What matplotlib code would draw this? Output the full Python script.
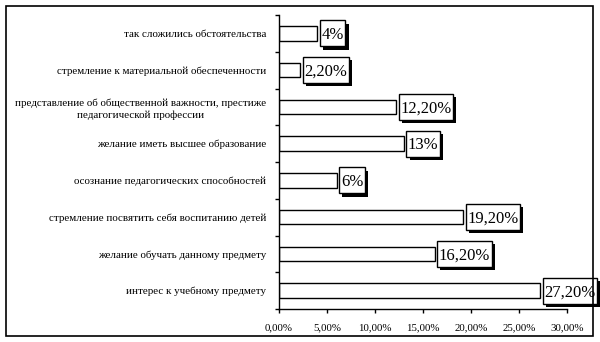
import matplotlib
matplotlib.use("Agg")
import matplotlib.pyplot as plt
import matplotlib.patheffects as pe
from matplotlib.patches import Rectangle

categories = [
    "интерес к учебному предмету",
    "желание обучать данному предмету",
    "стремление посвятить себя воспитанию детей",
    "осознание педагогических способностей",
    "желание иметь высшее образование",
    "представление об общественной важности, престиже\nпедагогической профессии",
    "стремление к материальной обеспеченности",
    "так сложились обстоятельства",
]
values = [27.2, 16.2, 19.2, 6.0, 13.0, 12.2, 2.2, 4.0]
value_labels = ["27,20%", "16,20%", "19,20%", "6%", "13%", "12,20%", "2,20%", "4%"]
xticks = [0, 5, 10, 15, 20, 25, 30]
xtick_labels = ["0,00%", "5,00%", "10,00%", "15,00%", "20,00%", "25,00%", "30,00%"]

plt.rcParams['font.family'] = ['Liberation Serif', 'DejaVu Serif']

fig = plt.figure(figsize=(6, 3.42), dpi=100)
fig.patches.append(Rectangle((6/600, 1-336/342), 587/600, 330/342, transform=fig.transFigure,
                             fill=False, edgecolor='black', linewidth=1.2))
ax = fig.add_axes([279/600, 1-309/342, 288/600, 294/342])

ypos = list(range(len(categories)))
ax.barh(ypos, values, height=0.4, color='white', edgecolor='black', linewidth=1.0)
ax.set_xlim(0, 30)
ax.set_ylim(-0.5, len(categories)-0.5)

ax.set_yticks(ypos)
ax.set_yticklabels(categories, fontsize=7.9, multialignment='center', linespacing=1.3)
ax.tick_params(axis='y', which='major', length=0, pad=9)
ax.set_yticks([i-0.5 for i in range(len(categories)+1)], minor=True)
ax.tick_params(axis='y', which='minor', length=3, width=1, direction='out')

ax.set_xticks(xticks)
ax.set_xticklabels(xtick_labels, fontsize=7.8)
ax.tick_params(axis='x', length=3, width=1, direction='out', pad=7)

for s in ['top', 'right']:
    ax.spines[s].set_visible(False)
for s in ['left', 'bottom']:
    ax.spines[s].set_linewidth(1.0)

texts = []
for y, v, lab in zip(ypos, values, value_labels):
    t = ax.annotate(lab, xy=(v, y), xytext=(3, -4), textcoords='offset points',
                    ha='left', va='baseline', fontsize=12, color='black',
                    annotation_clip=False, zorder=5)
    texts.append((t, v, y))

fig.canvas.draw()
renderer = fig.canvas.get_renderer()
inv = fig.transFigure.inverted()
for t, v, y in texts:
    bb = t.get_window_extent(renderer)
    cx, cy = ax.transData.transform((v, y))
    x0 = bb.x0 - 1.5
    x1 = bb.x1 + 1.5
    h = 26
    (fx0, fy0) = inv.transform((x0, cy - h/2))
    (fx1, fy1) = inv.transform((x1, cy + h/2))
    r = Rectangle((fx0, fy0), fx1 - fx0, fy1 - fy0, transform=fig.transFigure,
                  facecolor='white', edgecolor='black', linewidth=1.0,
                  zorder=4, clip_on=False)
    r.set_path_effects([pe.SimplePatchShadow(offset=(2.3, -2.3), shadow_rgbFace='black', alpha=1.0),
                        pe.Normal()])
    ax.add_artist(r)

fig.savefig("out.png", dpi=100)
